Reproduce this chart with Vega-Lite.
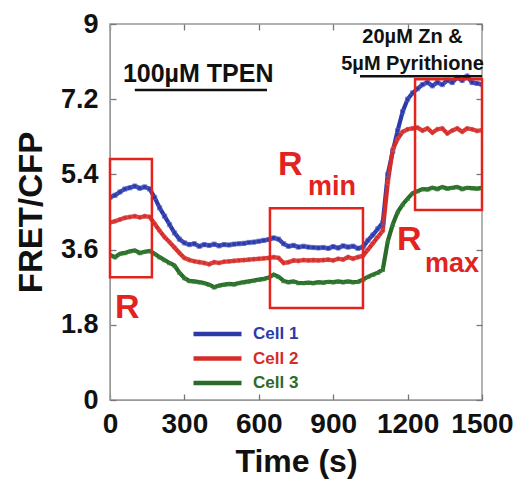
{
  "$schema": "https://vega.github.io/schema/vega-lite/v6.json",
  "width": 372,
  "height": 376,
  "autosize": {"type": "none"},
  "padding": {"left": 110, "top": 24, "right": 43, "bottom": 89},
  "background": "white",
  "config": {
    "font": "Liberation Sans",
    "view": {"stroke": "#999999", "strokeWidth": 1.5},
    "axis": {"grid": false, "domainColor": "#999999", "tickColor": "#777777", "tickSize": -6, "tickWidth": 1.3, "labelFont": "Liberation Sans", "labelFontWeight": "bold", "labelColor": "#111111", "titleFont": "Liberation Sans", "titleFontWeight": "bold", "titleColor": "#111111", "labelOverlap": false, "labelBound": false, "labelFlush": false}
  },
  "datasets": {
    "series": [
      {"t":0,"v":4.85,"c":"Cell 1"},{"t":20,"v":4.9,"c":"Cell 1"},{"t":40,"v":4.98,"c":"Cell 1"},{"t":60,"v":5.05,"c":"Cell 1"},{"t":80,"v":5.08,"c":"Cell 1"},{"t":100,"v":5.12,"c":"Cell 1"},{"t":120,"v":5.07,"c":"Cell 1"},{"t":140,"v":5.1,"c":"Cell 1"},{"t":160,"v":5.05,"c":"Cell 1"},{"t":180,"v":4.85,"c":"Cell 1"},{"t":200,"v":4.6,"c":"Cell 1"},{"t":220,"v":4.4,"c":"Cell 1"},{"t":240,"v":4.2,"c":"Cell 1"},{"t":260,"v":4.0,"c":"Cell 1"},{"t":280,"v":3.85,"c":"Cell 1"},{"t":300,"v":3.76,"c":"Cell 1"},{"t":320,"v":3.72,"c":"Cell 1"},{"t":340,"v":3.74,"c":"Cell 1"},{"t":360,"v":3.68,"c":"Cell 1"},{"t":380,"v":3.72,"c":"Cell 1"},{"t":400,"v":3.7,"c":"Cell 1"},{"t":420,"v":3.73,"c":"Cell 1"},{"t":440,"v":3.69,"c":"Cell 1"},{"t":460,"v":3.72,"c":"Cell 1"},{"t":480,"v":3.71,"c":"Cell 1"},{"t":500,"v":3.73,"c":"Cell 1"},{"t":520,"v":3.74,"c":"Cell 1"},{"t":540,"v":3.75,"c":"Cell 1"},{"t":560,"v":3.77,"c":"Cell 1"},{"t":580,"v":3.78,"c":"Cell 1"},{"t":600,"v":3.8,"c":"Cell 1"},{"t":620,"v":3.82,"c":"Cell 1"},{"t":640,"v":3.84,"c":"Cell 1"},{"t":660,"v":3.88,"c":"Cell 1"},{"t":680,"v":3.85,"c":"Cell 1"},{"t":700,"v":3.74,"c":"Cell 1"},{"t":720,"v":3.68,"c":"Cell 1"},{"t":740,"v":3.7,"c":"Cell 1"},{"t":760,"v":3.66,"c":"Cell 1"},{"t":780,"v":3.68,"c":"Cell 1"},{"t":800,"v":3.66,"c":"Cell 1"},{"t":820,"v":3.65,"c":"Cell 1"},{"t":840,"v":3.64,"c":"Cell 1"},{"t":860,"v":3.65,"c":"Cell 1"},{"t":880,"v":3.63,"c":"Cell 1"},{"t":900,"v":3.67,"c":"Cell 1"},{"t":920,"v":3.64,"c":"Cell 1"},{"t":940,"v":3.69,"c":"Cell 1"},{"t":960,"v":3.66,"c":"Cell 1"},{"t":980,"v":3.68,"c":"Cell 1"},{"t":1000,"v":3.63,"c":"Cell 1"},{"t":1020,"v":3.66,"c":"Cell 1"},{"t":1040,"v":3.82,"c":"Cell 1"},{"t":1060,"v":3.95,"c":"Cell 1"},{"t":1080,"v":4.1,"c":"Cell 1"},{"t":1100,"v":4.25,"c":"Cell 1"},{"t":1120,"v":5.4,"c":"Cell 1"},{"t":1140,"v":5.95,"c":"Cell 1"},{"t":1160,"v":6.45,"c":"Cell 1"},{"t":1180,"v":6.9,"c":"Cell 1"},{"t":1200,"v":7.2,"c":"Cell 1"},{"t":1220,"v":7.35,"c":"Cell 1"},{"t":1240,"v":7.45,"c":"Cell 1"},{"t":1260,"v":7.55,"c":"Cell 1"},{"t":1280,"v":7.6,"c":"Cell 1"},{"t":1300,"v":7.52,"c":"Cell 1"},{"t":1320,"v":7.6,"c":"Cell 1"},{"t":1340,"v":7.55,"c":"Cell 1"},{"t":1360,"v":7.65,"c":"Cell 1"},{"t":1380,"v":7.6,"c":"Cell 1"},{"t":1400,"v":7.72,"c":"Cell 1"},{"t":1420,"v":7.65,"c":"Cell 1"},{"t":1440,"v":7.75,"c":"Cell 1"},{"t":1460,"v":7.6,"c":"Cell 1"},{"t":1480,"v":7.58,"c":"Cell 1"},{"t":1500,"v":7.55,"c":"Cell 1"},
      {"t":0,"v":4.25,"c":"Cell 2"},{"t":20,"v":4.28,"c":"Cell 2"},{"t":40,"v":4.32,"c":"Cell 2"},{"t":60,"v":4.36,"c":"Cell 2"},{"t":80,"v":4.38,"c":"Cell 2"},{"t":100,"v":4.4,"c":"Cell 2"},{"t":120,"v":4.37,"c":"Cell 2"},{"t":140,"v":4.4,"c":"Cell 2"},{"t":160,"v":4.38,"c":"Cell 2"},{"t":180,"v":4.22,"c":"Cell 2"},{"t":200,"v":4.05,"c":"Cell 2"},{"t":220,"v":3.9,"c":"Cell 2"},{"t":240,"v":3.78,"c":"Cell 2"},{"t":260,"v":3.65,"c":"Cell 2"},{"t":280,"v":3.52,"c":"Cell 2"},{"t":300,"v":3.4,"c":"Cell 2"},{"t":320,"v":3.35,"c":"Cell 2"},{"t":340,"v":3.32,"c":"Cell 2"},{"t":360,"v":3.3,"c":"Cell 2"},{"t":380,"v":3.28,"c":"Cell 2"},{"t":400,"v":3.25,"c":"Cell 2"},{"t":420,"v":3.3,"c":"Cell 2"},{"t":440,"v":3.28,"c":"Cell 2"},{"t":460,"v":3.31,"c":"Cell 2"},{"t":480,"v":3.32,"c":"Cell 2"},{"t":500,"v":3.33,"c":"Cell 2"},{"t":520,"v":3.34,"c":"Cell 2"},{"t":540,"v":3.35,"c":"Cell 2"},{"t":560,"v":3.36,"c":"Cell 2"},{"t":580,"v":3.37,"c":"Cell 2"},{"t":600,"v":3.38,"c":"Cell 2"},{"t":620,"v":3.39,"c":"Cell 2"},{"t":640,"v":3.4,"c":"Cell 2"},{"t":660,"v":3.42,"c":"Cell 2"},{"t":680,"v":3.4,"c":"Cell 2"},{"t":700,"v":3.28,"c":"Cell 2"},{"t":720,"v":3.3,"c":"Cell 2"},{"t":740,"v":3.34,"c":"Cell 2"},{"t":760,"v":3.33,"c":"Cell 2"},{"t":780,"v":3.35,"c":"Cell 2"},{"t":800,"v":3.34,"c":"Cell 2"},{"t":820,"v":3.35,"c":"Cell 2"},{"t":840,"v":3.34,"c":"Cell 2"},{"t":860,"v":3.35,"c":"Cell 2"},{"t":880,"v":3.36,"c":"Cell 2"},{"t":900,"v":3.34,"c":"Cell 2"},{"t":920,"v":3.38,"c":"Cell 2"},{"t":940,"v":3.36,"c":"Cell 2"},{"t":960,"v":3.42,"c":"Cell 2"},{"t":980,"v":3.38,"c":"Cell 2"},{"t":1000,"v":3.42,"c":"Cell 2"},{"t":1020,"v":3.45,"c":"Cell 2"},{"t":1040,"v":3.6,"c":"Cell 2"},{"t":1060,"v":3.75,"c":"Cell 2"},{"t":1080,"v":3.9,"c":"Cell 2"},{"t":1100,"v":4.05,"c":"Cell 2"},{"t":1120,"v":5.2,"c":"Cell 2"},{"t":1140,"v":6.0,"c":"Cell 2"},{"t":1160,"v":6.25,"c":"Cell 2"},{"t":1180,"v":6.42,"c":"Cell 2"},{"t":1200,"v":6.48,"c":"Cell 2"},{"t":1220,"v":6.5,"c":"Cell 2"},{"t":1240,"v":6.52,"c":"Cell 2"},{"t":1260,"v":6.45,"c":"Cell 2"},{"t":1280,"v":6.5,"c":"Cell 2"},{"t":1300,"v":6.4,"c":"Cell 2"},{"t":1320,"v":6.48,"c":"Cell 2"},{"t":1340,"v":6.5,"c":"Cell 2"},{"t":1360,"v":6.38,"c":"Cell 2"},{"t":1380,"v":6.45,"c":"Cell 2"},{"t":1400,"v":6.5,"c":"Cell 2"},{"t":1420,"v":6.42,"c":"Cell 2"},{"t":1440,"v":6.5,"c":"Cell 2"},{"t":1460,"v":6.48,"c":"Cell 2"},{"t":1480,"v":6.44,"c":"Cell 2"},{"t":1500,"v":6.46,"c":"Cell 2"},
      {"t":0,"v":3.47,"c":"Cell 3"},{"t":20,"v":3.42,"c":"Cell 3"},{"t":40,"v":3.5,"c":"Cell 3"},{"t":60,"v":3.52,"c":"Cell 3"},{"t":80,"v":3.56,"c":"Cell 3"},{"t":100,"v":3.58,"c":"Cell 3"},{"t":120,"v":3.52,"c":"Cell 3"},{"t":140,"v":3.55,"c":"Cell 3"},{"t":160,"v":3.57,"c":"Cell 3"},{"t":180,"v":3.5,"c":"Cell 3"},{"t":200,"v":3.42,"c":"Cell 3"},{"t":220,"v":3.35,"c":"Cell 3"},{"t":240,"v":3.28,"c":"Cell 3"},{"t":260,"v":3.22,"c":"Cell 3"},{"t":280,"v":3.05,"c":"Cell 3"},{"t":300,"v":2.92,"c":"Cell 3"},{"t":320,"v":2.85,"c":"Cell 3"},{"t":340,"v":2.84,"c":"Cell 3"},{"t":360,"v":2.82,"c":"Cell 3"},{"t":380,"v":2.8,"c":"Cell 3"},{"t":400,"v":2.76,"c":"Cell 3"},{"t":420,"v":2.7,"c":"Cell 3"},{"t":440,"v":2.74,"c":"Cell 3"},{"t":460,"v":2.76,"c":"Cell 3"},{"t":480,"v":2.78,"c":"Cell 3"},{"t":500,"v":2.77,"c":"Cell 3"},{"t":520,"v":2.8,"c":"Cell 3"},{"t":540,"v":2.82,"c":"Cell 3"},{"t":560,"v":2.84,"c":"Cell 3"},{"t":580,"v":2.86,"c":"Cell 3"},{"t":600,"v":2.88,"c":"Cell 3"},{"t":620,"v":2.9,"c":"Cell 3"},{"t":640,"v":2.93,"c":"Cell 3"},{"t":660,"v":3.0,"c":"Cell 3"},{"t":680,"v":2.95,"c":"Cell 3"},{"t":700,"v":2.85,"c":"Cell 3"},{"t":720,"v":2.82,"c":"Cell 3"},{"t":740,"v":2.84,"c":"Cell 3"},{"t":760,"v":2.8,"c":"Cell 3"},{"t":780,"v":2.8,"c":"Cell 3"},{"t":800,"v":2.81,"c":"Cell 3"},{"t":820,"v":2.8,"c":"Cell 3"},{"t":840,"v":2.82,"c":"Cell 3"},{"t":860,"v":2.81,"c":"Cell 3"},{"t":880,"v":2.83,"c":"Cell 3"},{"t":900,"v":2.82,"c":"Cell 3"},{"t":920,"v":2.84,"c":"Cell 3"},{"t":940,"v":2.82,"c":"Cell 3"},{"t":960,"v":2.84,"c":"Cell 3"},{"t":980,"v":2.82,"c":"Cell 3"},{"t":1000,"v":2.83,"c":"Cell 3"},{"t":1020,"v":2.88,"c":"Cell 3"},{"t":1040,"v":2.95,"c":"Cell 3"},{"t":1060,"v":3.0,"c":"Cell 3"},{"t":1080,"v":3.05,"c":"Cell 3"},{"t":1100,"v":3.12,"c":"Cell 3"},{"t":1120,"v":3.8,"c":"Cell 3"},{"t":1140,"v":4.2,"c":"Cell 3"},{"t":1160,"v":4.5,"c":"Cell 3"},{"t":1180,"v":4.68,"c":"Cell 3"},{"t":1200,"v":4.82,"c":"Cell 3"},{"t":1220,"v":4.95,"c":"Cell 3"},{"t":1240,"v":5.0,"c":"Cell 3"},{"t":1260,"v":5.05,"c":"Cell 3"},{"t":1280,"v":5.04,"c":"Cell 3"},{"t":1300,"v":5.08,"c":"Cell 3"},{"t":1320,"v":5.05,"c":"Cell 3"},{"t":1340,"v":5.1,"c":"Cell 3"},{"t":1360,"v":5.06,"c":"Cell 3"},{"t":1380,"v":5.08,"c":"Cell 3"},{"t":1400,"v":5.1,"c":"Cell 3"},{"t":1420,"v":5.05,"c":"Cell 3"},{"t":1440,"v":5.08,"c":"Cell 3"},{"t":1460,"v":5.07,"c":"Cell 3"},{"t":1480,"v":5.06,"c":"Cell 3"},{"t":1500,"v":5.08,"c":"Cell 3"}
    ]
  },
  "layer": [
    {
      "data": {"name": "series"},
      "mark": {"type": "line", "strokeWidth": 4.2, "clip": true},
      "encoding": {
        "x": {"field": "t", "type": "quantitative", "scale": {"domain": [0, 1500], "nice": false}, "axis": {"values": [0, 300, 600, 900, 1200, 1500], "format": "d", "title": "Time (s)", "labelFontSize": 28, "labelPadding": 16, "titleFontSize": 32, "titlePadding": 8}},
        "y": {"field": "v", "type": "quantitative", "scale": {"domain": [0, 9], "nice": false, "zero": false}, "axis": {"values": [0, 1.8, 3.6, 5.4, 7.2, 9], "labelExpr": "'' + datum.value", "title": "FRET/CFP", "labelFontSize": 27, "labelPadding": 18, "titleFontSize": 33, "titlePadding": 12}},
        "color": {"field": "c", "type": "nominal", "scale": {"domain": ["Cell 1", "Cell 2", "Cell 3"], "range": ["#2c3aa8", "#d42c28", "#2a6b2a"]},
          "legend": {"title": null, "orient": "none", "legendX": 81, "legendY": 302, "symbolType": "stroke", "symbolSize": 2304, "symbolStrokeWidth": 4.5, "clipHeight": 16, "rowPadding": 7.5, "labelFontSize": 17, "labelFontWeight": "bold", "labelOffset": 9, "labelFont": "Liberation Sans",
            "encode": {"labels": {"update": {"fill": {"scale": "color", "field": "value"}}}}}}
      }
    },
    {
      "data": {"name": "series"},
      "transform": [{"filter": "datum.c === 'Cell 1'"}],
      "mark": {"type": "point", "shape": "square", "filled": false, "size": 18, "strokeWidth": 0.9, "opacity": 0.8, "color": "#5060c4", "clip": true},
      "encoding": {
        "x": {"field": "t", "type": "quantitative", "axis": null},
        "y": {"field": "v", "type": "quantitative", "axis": null}
      }
    },
    {
      "data": {"name": "series"},
      "transform": [{"filter": "datum.c === 'Cell 2'"}],
      "mark": {"type": "point", "shape": "circle", "filled": false, "size": 18, "strokeWidth": 0.9, "opacity": 0.8, "color": "#e05a5a", "clip": true},
      "encoding": {
        "x": {"field": "t", "type": "quantitative", "axis": null},
        "y": {"field": "v", "type": "quantitative", "axis": null}
      }
    },
    {
      "data": {"name": "series"},
      "transform": [{"filter": "datum.c === 'Cell 3'"}],
      "mark": {"type": "point", "shape": "triangle-up", "filled": false, "size": 18, "strokeWidth": 0.9, "opacity": 0.8, "color": "#3f8a3f", "clip": true},
      "encoding": {
        "x": {"field": "t", "type": "quantitative", "axis": null},
        "y": {"field": "v", "type": "quantitative", "axis": null}
      }
    },
    {
      "data": {"values": [
        {"x": 0, "x2": 169, "y": 2.94, "y2": 5.77},
        {"x": 645, "x2": 1020, "y": 2.2, "y2": 4.59},
        {"x": 1230, "x2": 1500, "y": 4.55, "y2": 7.68}
      ]},
      "mark": {"type": "rect", "fill": "white", "fillOpacity": 0, "stroke": "#e2231e", "strokeWidth": 2.5},
      "encoding": {
        "x": {"field": "x", "type": "quantitative", "axis": null},
        "x2": {"field": "x2"},
        "y": {"field": "y", "type": "quantitative", "axis": null},
        "y2": {"field": "y2"}
      }
    },
    {
      "data": {"values": [
        {"x": 100, "x2": 633, "y": 7.42},
        {"x": 1008, "x2": 1500, "y": 7.75}
      ]},
      "mark": {"type": "rule", "color": "#111111", "strokeWidth": 2.5},
      "encoding": {
        "x": {"field": "x", "type": "quantitative", "axis": {"orient": "top", "values": [0, 300, 600, 900, 1200, 1500], "labels": false, "title": null, "domain": false}},
        "x2": {"field": "x2"},
        "y": {"field": "y", "type": "quantitative", "axis": {"orient": "right", "values": [0, 1.8, 3.6, 5.4, 7.2, 9], "labels": false, "title": null, "domain": false}}
      }
    },
    {
      "data": {"values": [
        {"x": 20, "y": 1.96, "t": "R"},
        {"x": 677, "y": 5.385, "t": "R"},
        {"x": 1157, "y": 3.59, "t": "R"}
      ]},
      "mark": {"type": "text", "align": "left", "baseline": "alphabetic", "fontSize": 34, "fontWeight": "bold", "color": "#e2231e", "font": "Liberation Sans"},
      "encoding": {
        "x": {"field": "x", "type": "quantitative", "axis": null},
        "y": {"field": "y", "type": "quantitative", "axis": null},
        "text": {"field": "t"}
      }
    },
    {
      "data": {"values": [
        {"x": 798, "y": 4.9, "t": "min"},
        {"x": 1270, "y": 3.06, "t": "max"}
      ]},
      "mark": {"type": "text", "align": "left", "baseline": "alphabetic", "fontSize": 27, "fontWeight": "bold", "color": "#e2231e", "font": "Liberation Sans"},
      "encoding": {
        "x": {"field": "x", "type": "quantitative", "axis": null},
        "y": {"field": "y", "type": "quantitative", "axis": null},
        "text": {"field": "t"}
      }
    },
    {
      "data": {"values": [
        {"x": 52, "y": 7.61, "t": "100µM TPEN"}
      ]},
      "mark": {"type": "text", "align": "left", "baseline": "alphabetic", "fontSize": 25, "fontWeight": "bold", "color": "#111111", "font": "Liberation Sans"},
      "encoding": {
        "x": {"field": "x", "type": "quantitative", "axis": null},
        "y": {"field": "y", "type": "quantitative", "axis": null},
        "text": {"field": "t"}
      }
    },
    {
      "data": {"values": [
        {"x": 1220, "y": 8.54, "t": "20µM Zn &"},
        {"x": 1220, "y": 7.9, "t": "5µM Pyrithione"}
      ]},
      "mark": {"type": "text", "align": "center", "baseline": "alphabetic", "fontSize": 20, "fontWeight": "bold", "color": "#111111", "font": "Liberation Sans"},
      "encoding": {
        "x": {"field": "x", "type": "quantitative", "axis": null},
        "y": {"field": "y", "type": "quantitative", "axis": null},
        "text": {"field": "t"}
      }
    }
  ],
  "resolve": {"axis": {"x": "independent", "y": "independent"}}
}
